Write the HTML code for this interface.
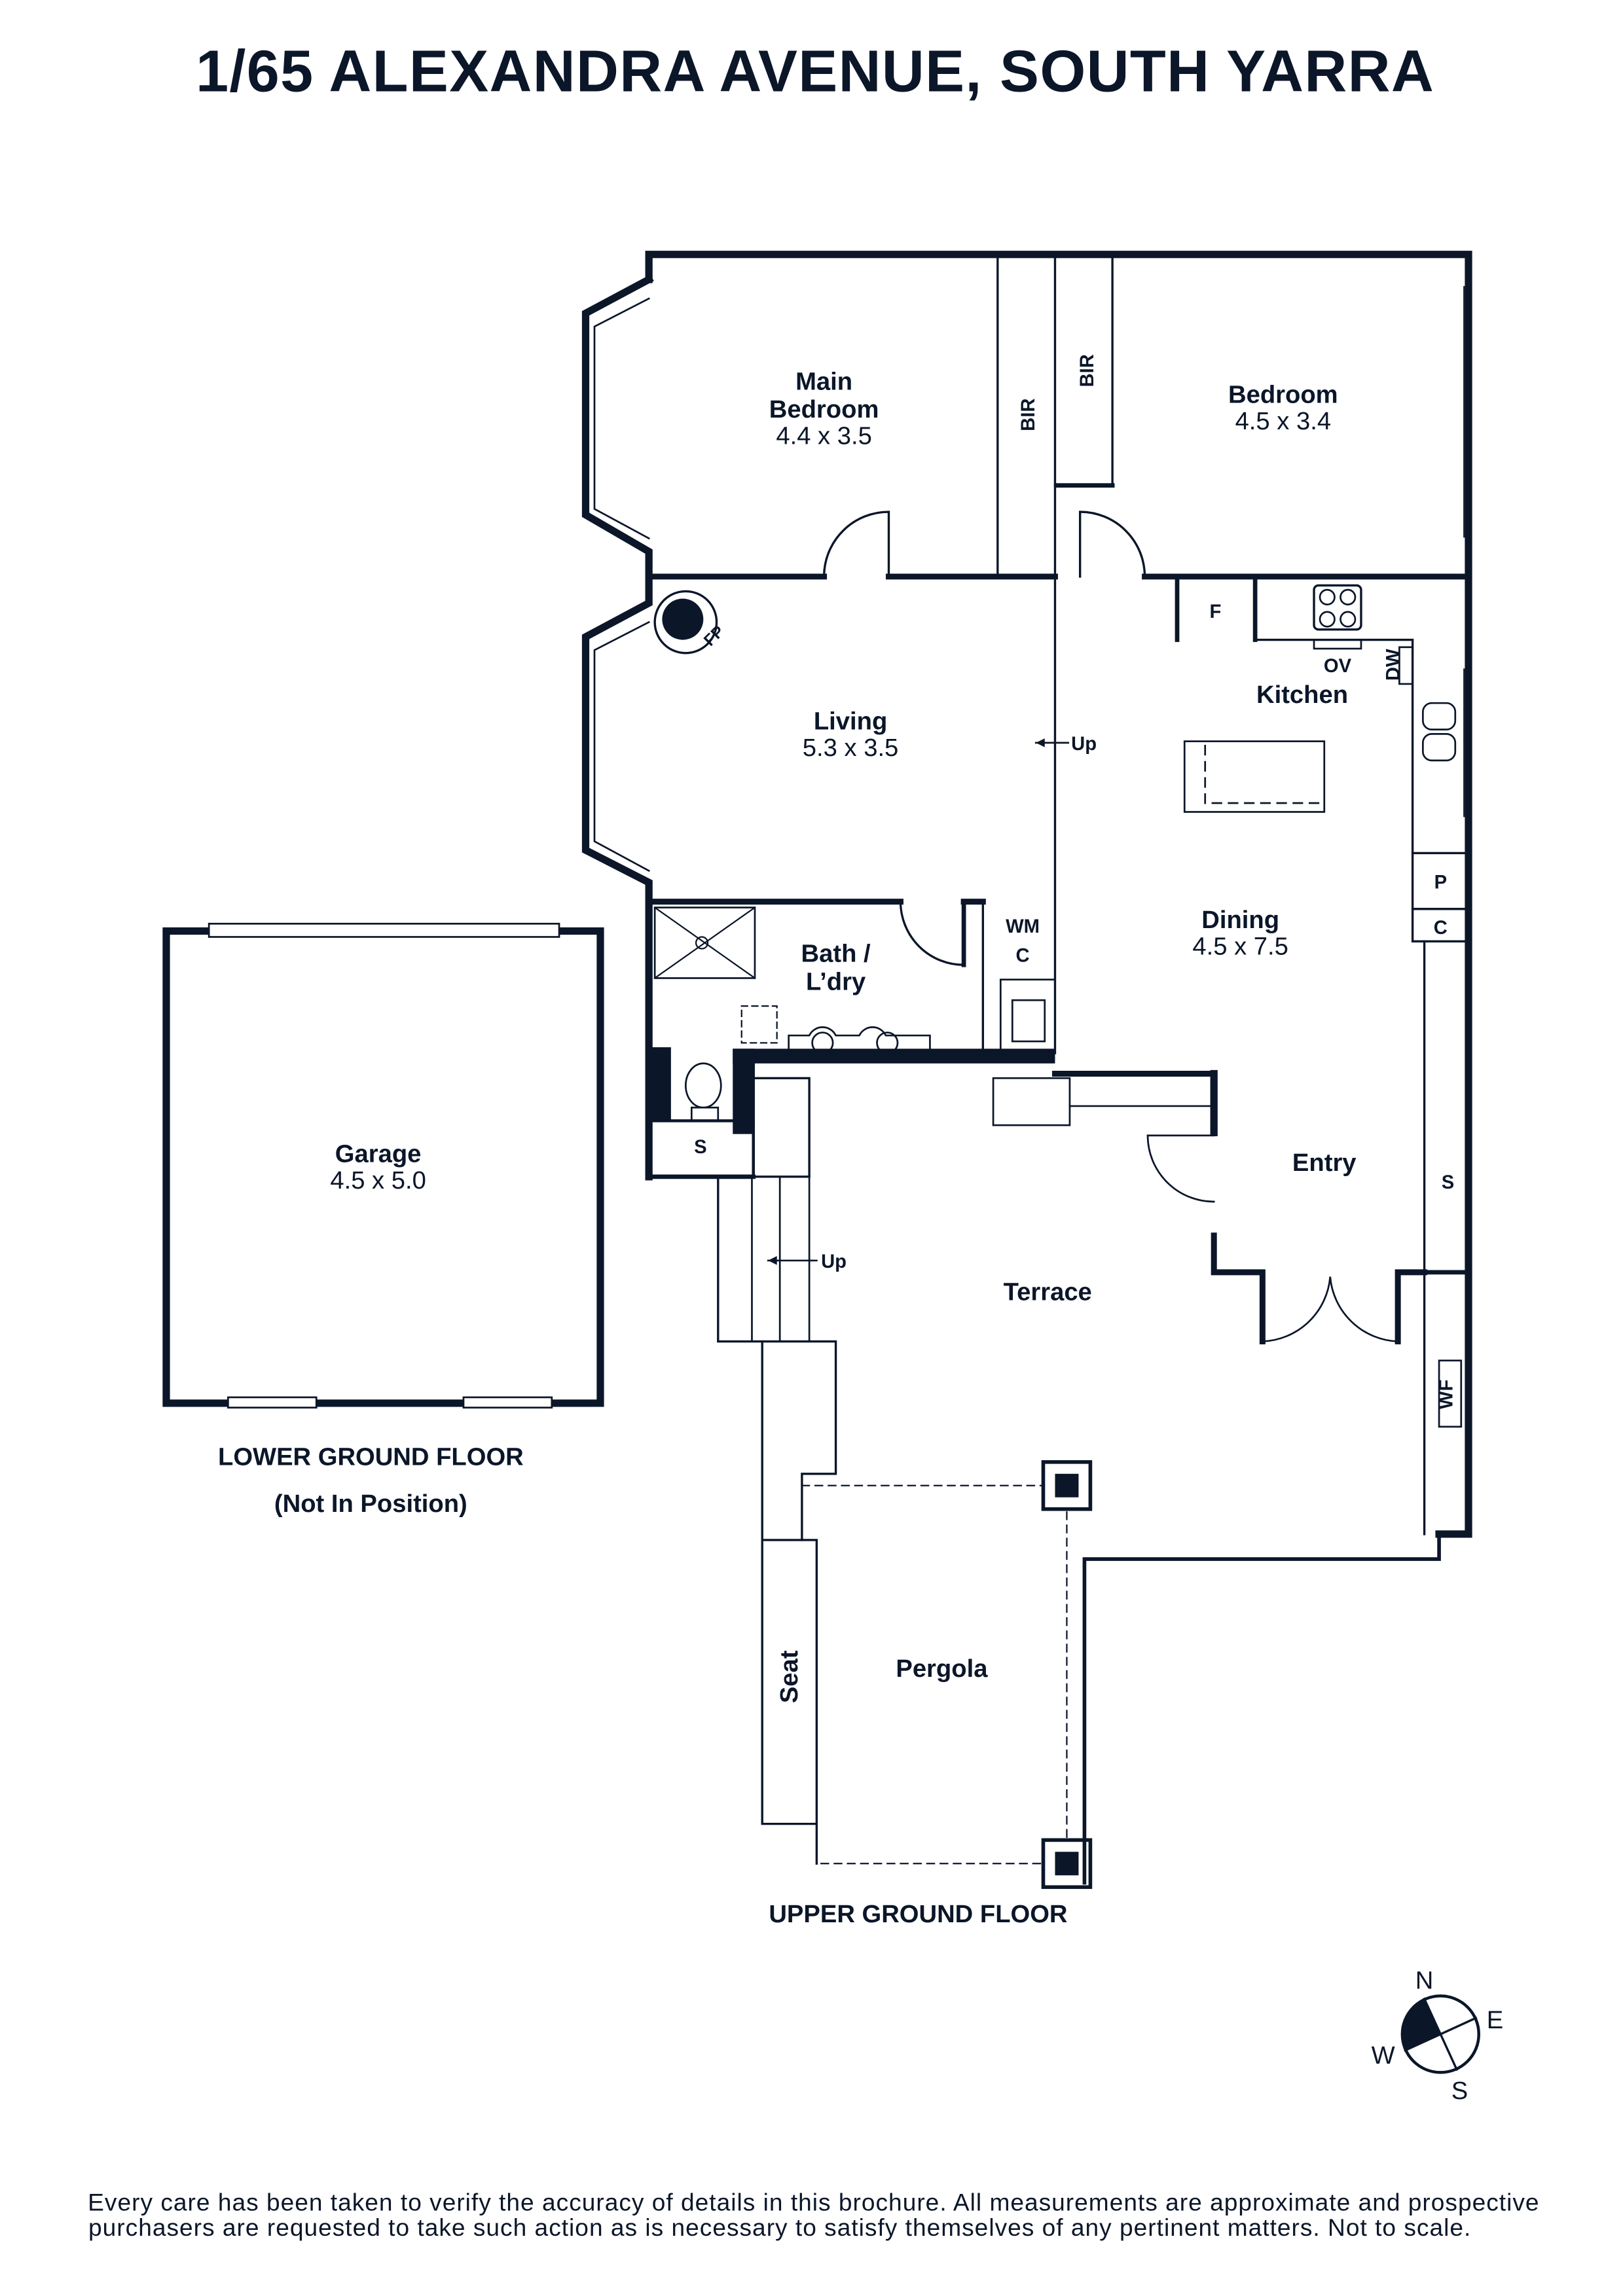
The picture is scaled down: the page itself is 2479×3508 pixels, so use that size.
<!DOCTYPE html>
<html><head><meta charset="utf-8"><style>
html,body{margin:0;padding:0;background:#fff}
svg{display:block}
text{font-family:"Liberation Sans",Arial,sans-serif;fill:#0b1629}
.b{font-weight:bold;font-size:17px}
.r{font-size:17px}
.s{font-weight:bold;font-size:13px}
</style></head><body>
<svg width="2479" height="3508" viewBox="0 0 1103 1561" preserveAspectRatio="none" xmlns="http://www.w3.org/2000/svg">
<g stroke="#0b1629" fill="none" stroke-linecap="square">
<text x="554" y="62" text-anchor="middle" style="font-weight:bold;font-size:40px;letter-spacing:0.6px" stroke="none">1/65 ALEXANDRA AVENUE, SOUTH YARRA</text>

<polyline points="441,190 441,173 998,173 998,1043 978,1043" stroke-width="5"/>
<polyline points="441,190 398,213 398,350 441,375 441,410 398,433 398,578 441,600 441,800" stroke-width="5"/>
<polyline points="441,203 404,222 404,346 441,366" stroke-width="1.2"/>
<polyline points="441,423 404,442 404,572 441,592" stroke-width="1.2"/>
<line x1="441" y1="392" x2="560" y2="392" stroke-width="4"/>
<line x1="604" y1="392" x2="717" y2="392" stroke-width="4"/>
<line x1="778" y1="392" x2="997" y2="392" stroke-width="4"/>
<path d="M560,392 A44,44 0 0 1 604,348 L604,392" stroke-width="1.5"/>
<path d="M778,392 A44,44 0 0 0 734,348 L734,392" stroke-width="1.5"/>
<line x1="678" y1="175" x2="678" y2="392" stroke-width="1.5"/>
<line x1="717" y1="175" x2="717" y2="716" stroke-width="1.5"/>
<polyline points="717,330 756,330 756,175" stroke-width="1.5"/>
<line x1="719" y1="330" x2="756" y2="330" stroke-width="3"/>
<line x1="995" y1="195" x2="995" y2="365" stroke-width="1"/>
<line x1="995" y1="455" x2="995" y2="555" stroke-width="1"/>
<line x1="800" y1="392" x2="800" y2="435" stroke-width="3"/>
<line x1="853" y1="392" x2="853" y2="435" stroke-width="3"/>
<polyline points="853,435 960,435 960,580" stroke-width="1.5"/>
<rect x="893" y="398" width="32" height="30" rx="3" stroke-width="1.5"/>
<circle cx="902" cy="406" r="5" stroke-width="1.2"/><circle cx="916" cy="406" r="5" stroke-width="1.2"/>
<circle cx="902" cy="421" r="5" stroke-width="1.2"/><circle cx="916" cy="421" r="5" stroke-width="1.2"/>
<rect x="893" y="435" width="32" height="6" stroke-width="1.2"/>
<rect x="951" y="440" width="9" height="25" stroke-width="1.2"/>
<rect x="967" y="478" width="22" height="18" rx="6" stroke-width="1.2"/>
<rect x="967" y="499" width="22" height="18" rx="6" stroke-width="1.2"/>
<rect x="805" y="504" width="95" height="48" stroke-width="1.2"/>
<path d="M819,507 V546 H900" stroke-width="1.2" stroke-dasharray="6,5"/>
<rect x="960" y="580" width="37" height="38" stroke-width="1.5"/>
<rect x="960" y="618" width="37" height="22" stroke-width="1.5"/>
<line x1="968" y1="640" x2="968" y2="1043" stroke-width="1.5"/>
<line x1="968" y1="865" x2="997" y2="865" stroke-width="3"/>
<circle cx="466" cy="423" r="21" stroke-width="1.5"/>
<circle cx="464" cy="421" r="14" fill="#0b1629" stroke="none"/>
<text x="480" y="441" class="s" stroke="none" style="font-size:11px" transform="rotate(-45 480 437)">FP</text>
<line x1="704" y1="505" x2="726" y2="505" stroke-width="1.2"/>
<polygon points="704,505 710,502 710,508" fill="#0b1629" stroke="none"/>
<line x1="441" y1="613" x2="612" y2="613" stroke-width="4"/>
<line x1="655" y1="613" x2="668" y2="613" stroke-width="4"/>
<path d="M612,613 A43,43 0 0 0 655,656 L655,613" stroke-width="1.5"/>
<line x1="655" y1="613" x2="655" y2="656" stroke-width="3"/>
<line x1="668" y1="613" x2="668" y2="716" stroke-width="1.5"/>
<rect x="445" y="617" width="68" height="48" stroke-width="1.2"/>
<line x1="445" y1="617" x2="513" y2="665" stroke-width="1"/><line x1="513" y1="617" x2="445" y2="665" stroke-width="1"/>
<circle cx="477" cy="641" r="4" stroke-width="1"/>
<rect x="504" y="684" width="24" height="25" stroke-width="1" stroke-dasharray="4,3"/>
<path d="M536,716 V704 H550 A10,10 0 0 1 568,704 H584 A10,10 0 0 1 602,704 H632 V716" stroke-width="1.2"/>
<circle cx="559" cy="709" r="7" stroke-width="1.2"/><circle cx="603" cy="709" r="7" stroke-width="1.2"/>
<rect x="680" y="666" width="37" height="50" stroke-width="1.2"/>
<rect x="688" y="680" width="22" height="28" stroke-width="1.2"/>
<rect x="498" y="713" width="219" height="10" fill="#0b1629" stroke="none"/>
<rect x="498" y="713" width="15" height="58" fill="#0b1629" stroke="none"/>
<rect x="441" y="712" width="15" height="50" fill="#0b1629" stroke="none"/>
<ellipse cx="478" cy="738" rx="12" ry="15" stroke-width="1.2"/>
<rect x="470" y="753" width="18" height="9" stroke-width="1.2"/>
<rect x="441" y="762" width="71" height="38" stroke-width="2"/>
<line x1="441" y1="800" x2="512" y2="800" stroke-width="3"/>
<polyline points="513,733 550,733 550,800 512,800" stroke-width="1.5"/>
<line x1="717" y1="730" x2="825" y2="730" stroke-width="4"/>
<line x1="727" y1="752" x2="825" y2="752" stroke-width="1.2"/>
<rect x="675" y="733" width="52" height="32" stroke-width="1.2"/>
<polyline points="825,730 825,770" stroke-width="5"/>
<line x1="780" y1="772" x2="825" y2="772" stroke-width="1.2"/>
<path d="M780,772 A45,45 0 0 0 825,817" stroke-width="1.2"/>
<polyline points="825,840 825,865 858,865 858,912" stroke-width="4"/>
<polyline points="950,912 950,865 968,865" stroke-width="4"/>
<path d="M858,912 A48,48 0 0 0 904,868 A48,48 0 0 0 950,912" stroke-width="1.2"/>
<rect x="978" y="925" width="15" height="45" stroke-width="1.2"/>
<polyline points="488,800 488,912 568,912 568,1002 545,1002 545,1047" stroke-width="1.5"/>
<line x1="511" y1="800" x2="511" y2="912" stroke-width="1.2"/>
<line x1="530" y1="800" x2="530" y2="912" stroke-width="1.2"/>
<line x1="550" y1="800" x2="550" y2="912" stroke-width="1.2"/>
<line x1="522" y1="857" x2="555" y2="857" stroke-width="1.2"/>
<polygon points="522,857 528,854 528,860" fill="#0b1629" stroke="none"/>
<polyline points="518,912 518,1240 555,1240 555,1267" stroke-width="1.5"/>
<polyline points="518,1047 555,1047 555,1240" stroke-width="1.5"/>
<polyline points="737,1280 737,1060 978,1060 978,1043" stroke-width="2.5"/>
<line x1="545" y1="1010" x2="708" y2="1010" stroke-width="1" stroke-dasharray="5,4"/>
<line x1="725" y1="1028" x2="725" y2="1250" stroke-width="1" stroke-dasharray="5,4"/>
<line x1="558" y1="1267" x2="708" y2="1267" stroke-width="1" stroke-dasharray="5,4"/>
<rect x="709" y="994" width="32" height="32" stroke-width="2.5"/>
<rect x="717" y="1002" width="16" height="16" fill="#0b1629" stroke="none"/>
<rect x="709" y="1251" width="32" height="32" stroke-width="2.5"/>
<rect x="717" y="1259" width="16" height="16" fill="#0b1629" stroke="none"/>
<rect x="113" y="633" width="295" height="321" stroke-width="5"/>
<rect x="142" y="628" width="238" height="9" fill="#fff" stroke-width="1.2"/>
<rect x="155" y="950" width="60" height="7" fill="#fff" stroke-width="1.2"/>
<rect x="315" y="950" width="60" height="7" fill="#fff" stroke-width="1.2"/>
<circle cx="979" cy="1383" r="26" stroke-width="2"/>
<line x1="968" y1="1359" x2="990" y2="1407" stroke-width="1.5"/>
<line x1="955" y1="1394" x2="1003" y2="1372" stroke-width="1.5"/>
<path d="M979,1383 L968,1359 A26,26 0 0 0 955,1394 Z" fill="#0b1629" stroke="none"/>
</g>
<text x="560" y="265" class="b" text-anchor="middle">Main</text>
<text x="560" y="284" class="b" text-anchor="middle">Bedroom</text>
<text x="560" y="302" class="r" text-anchor="middle">4.4 x 3.5</text>
<text x="872" y="274" class="b" text-anchor="middle">Bedroom</text>
<text x="872" y="292" class="r" text-anchor="middle">4.5 x 3.4</text>
<text class="s" transform="translate(703,282) rotate(-90)" text-anchor="middle">BIR</text>
<text class="s" transform="translate(743,252) rotate(-90)" text-anchor="middle">BIR</text>
<text x="578" y="496" class="b" text-anchor="middle">Living</text>
<text x="578" y="514" class="r" text-anchor="middle">5.3 x 3.5</text>
<text x="728" y="510" class="s">Up</text>
<text x="826" y="420" class="s" text-anchor="middle">F</text>
<text x="909" y="457" class="s" text-anchor="middle">OV</text>
<text class="s" transform="translate(951,452) rotate(-90)" text-anchor="middle">DW</text>
<text x="885" y="478" class="b" text-anchor="middle">Kitchen</text>
<text x="843" y="631" class="b" text-anchor="middle">Dining</text>
<text x="843" y="649" class="r" text-anchor="middle">4.5 x 7.5</text>
<text x="979" y="604" class="s" text-anchor="middle">P</text>
<text x="979" y="635" class="s" text-anchor="middle">C</text>
<text x="568" y="654" class="b" text-anchor="middle">Bath /</text>
<text x="568" y="673" class="b" text-anchor="middle">L’dry</text>
<text x="695" y="634" class="s" text-anchor="middle">WM</text>
<text x="695" y="654" class="s" text-anchor="middle">C</text>
<text x="476" y="784" class="s" text-anchor="middle">S</text>
<text x="900" y="796" class="b" text-anchor="middle">Entry</text>
<text x="984" y="808" class="s" text-anchor="middle">S</text>
<text x="558" y="862" class="s">Up</text>
<text x="712" y="884" class="b" text-anchor="middle">Terrace</text>
<text class="s" transform="translate(987,948) rotate(-90)" text-anchor="middle">WF</text>
<text x="640" y="1140" class="b" text-anchor="middle">Pergola</text>
<text class="b" transform="translate(542,1140) rotate(-90)" text-anchor="middle">Seat</text>
<text x="257" y="790" class="b" text-anchor="middle">Garage</text>
<text x="257" y="808" class="r" text-anchor="middle">4.5 x 5.0</text>
<text x="252" y="996" class="b" text-anchor="middle">LOWER GROUND FLOOR</text>
<text x="252" y="1028" class="b" text-anchor="middle">(Not In Position)</text>
<text x="624" y="1307" class="b" text-anchor="middle">UPPER GROUND FLOOR</text>
<text x="968" y="1352" class="r" text-anchor="middle">N</text>
<text x="1016" y="1379" class="r" text-anchor="middle">E</text>
<text x="940" y="1403" class="r" text-anchor="middle">W</text>
<text x="992" y="1427" class="r" text-anchor="middle">S</text>
<text x="553" y="1503" style="font-size:16.5px;letter-spacing:0.45px" text-anchor="middle">Every care has been taken to verify the accuracy of details in this brochure. All measurements are approximate and prospective</text>
<text x="530" y="1520" style="font-size:16.5px;letter-spacing:0.45px" text-anchor="middle">purchasers are requested to take such action as is necessary to satisfy themselves of any pertinent matters. Not to scale.</text>
</svg>
</body></html>
